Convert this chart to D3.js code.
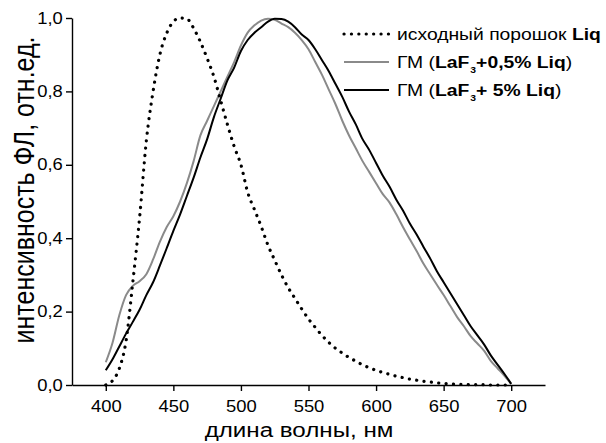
<!DOCTYPE html>
<html>
<head>
<meta charset="utf-8">
<script src="https://cdn.jsdelivr.net/npm/d3@7"></script>
<style>
  body { margin: 0; background: #fff; }
  text { font-family: "Liberation Sans", Arial, sans-serif; fill: #000; }
</style>
</head>
<body>
<svg id="chart" width="606" height="443"></svg>
<script>
// Wavelength grid, nm
const wavelengths = d3.range(400, 701, 5);

// Normalised photoluminescence spectra (relative units)
const powderLiq = [
  0.000, 0.012, 0.045, 0.120, 0.280, 0.455, 0.665, 0.800, 0.900, 0.958,
  0.990, 1.000, 0.998, 0.972, 0.935, 0.890, 0.840, 0.775, 0.710, 0.650,
  0.600, 0.525, 0.478, 0.432, 0.381, 0.340, 0.300, 0.265, 0.236, 0.207,
  0.180, 0.157, 0.135, 0.116, 0.100, 0.087, 0.075, 0.065, 0.055, 0.047,
  0.040, 0.034, 0.029, 0.024, 0.020, 0.016, 0.013, 0.010, 0.008, 0.006,
  0.004, 0.003, 0.002, 0.002, 0.001, 0.001, 0.001, 0.000, 0.000, 0.000,
  0.000
];
const gm05 = [
  0.062, 0.115, 0.190, 0.245, 0.270, 0.283, 0.302, 0.342, 0.390, 0.430,
  0.460, 0.500, 0.550, 0.610, 0.680, 0.720, 0.760, 0.800, 0.840, 0.880,
  0.925, 0.960, 0.980, 0.993, 0.998, 0.995, 0.985, 0.975, 0.960, 0.940,
  0.915, 0.880, 0.845, 0.805, 0.765, 0.720, 0.680, 0.645, 0.610, 0.580,
  0.550, 0.520, 0.497, 0.465, 0.430, 0.397, 0.365, 0.331, 0.302, 0.273,
  0.245, 0.215, 0.185, 0.160, 0.133, 0.113, 0.093, 0.065, 0.045, 0.025,
  0.003
];
const gm5 = [
  0.040, 0.070, 0.105, 0.140, 0.172, 0.205, 0.245, 0.280, 0.325, 0.372,
  0.420, 0.465, 0.515, 0.565, 0.620, 0.670, 0.730, 0.780, 0.830, 0.865,
  0.910, 0.940, 0.960, 0.975, 0.990, 0.998, 0.997, 0.990, 0.975, 0.955,
  0.940, 0.915, 0.885, 0.855, 0.820, 0.785, 0.745, 0.710, 0.670, 0.640,
  0.605, 0.570, 0.540, 0.505, 0.475, 0.440, 0.410, 0.377, 0.345, 0.310,
  0.280, 0.250, 0.220, 0.190, 0.160, 0.135, 0.110, 0.080, 0.055, 0.030,
  0.003
];

// Axis ticks
const xMajorTicks = [400, 450, 500, 550, 600, 650, 700];
const xMinorTicks = [375, 425, 475, 525, 575, 625, 675, 725];
const yMajorTicks = [0, 0.2, 0.4, 0.6, 0.8, 1.0];
const yMinorTicks = [0.1, 0.3, 0.5, 0.7, 0.9];

const svg = d3.select("#chart");
const SX = 1.15; // horizontal widening of the lettering

const x = d3.scaleLinear().domain([375, 725]).range([72, 545]);
const y = d3.scaleLinear().domain([0, 1]).range([385, 18]);

const commaFmt = v => d3.format(".1f")(v).replace(".", ",");

// X axis
const gx = svg.append("g").attr("transform", `translate(0,${y(0)})`);
gx.call(d3.axisBottom(x).tickValues(xMinorTicks).tickSize(4).tickSizeOuter(0).tickFormat(""));
gx.call(d3.axisBottom(x).tickValues(xMajorTicks).tickSize(6).tickSizeOuter(0).tickPadding(10));
gx.selectAll("text").attr("font-size", 16).attr("transform", `scale(${SX},1)`);

// Y axis
const gy = svg.append("g").attr("transform", `translate(${x(375)},0)`);
gy.call(d3.axisLeft(y).tickValues(yMinorTicks).tickSize(4).tickSizeOuter(0).tickFormat(""));
gy.call(d3.axisLeft(y).tickValues(yMajorTicks).tickSize(6).tickSizeOuter(0).tickPadding(2).tickFormat(commaFmt));
gy.selectAll("text").attr("font-size", 16).attr("transform", `scale(${SX},1)`);

svg.selectAll(".domain, .tick line").attr("stroke", "#000").attr("stroke-width", 1.4);
svg.selectAll(".tick text").attr("fill", "#000");

// Axis titles
svg.append("g").attr("transform", `translate(299,437) scale(${SX},1)`)
  .append("text").attr("text-anchor", "middle").attr("font-size", 21)
  .text("длина волны, нм");

svg.append("g").attr("transform", `translate(34,190) rotate(-90) scale(1,${SX})`)
  .append("text").attr("text-anchor", "middle").attr("font-size", 25)
  .text("интенсивность ФЛ, отн.ед.");

// Spectra
const series = [
  { values: gm05, color: "#8a8a8a", width: 2, dash: null },
  { values: gm5, color: "#000", width: 2, dash: null },
  { values: powderLiq, color: "#000", width: 3.2, dash: "0.1 7.3" }
];
const line = d3.line().x(d => x(d[0])).y(d => y(d[1])).curve(d3.curveMonotoneX);
series.forEach(s => {
  svg.append("path")
    .datum(wavelengths.map((w, i) => [w, s.values[i]]))
    .attr("d", line)
    .attr("fill", "none")
    .attr("stroke", s.color)
    .attr("stroke-width", s.width)
    .attr("stroke-linecap", s.dash ? "round" : "butt")
    .attr("stroke-dasharray", s.dash);
});

// Legend
const legendRows = [
  { y: 34, color: "#000", width: 3.2, dash: "0.1 7.3",
    parts: [["исходный порошок ", "normal"], ["Liq", "bold"]] },
  { y: 62, color: "#8a8a8a", width: 2, dash: null,
    parts: [["ГМ (", "normal"], ["LaF", "bold"], ["3", "bold", "sub"], ["+0,5% Liq", "bold"], [")", "normal"]] },
  { y: 90, color: "#000", width: 2, dash: null,
    parts: [["ГМ (", "normal"], ["LaF", "bold"], ["3", "bold", "sub"], ["+ 5% Liq", "bold"], [")", "normal"]] }
];
legendRows.forEach(r => {
  svg.append("line")
    .attr("x1", 344).attr("x2", 389).attr("y1", r.y).attr("y2", r.y)
    .attr("stroke", r.color).attr("stroke-width", r.width)
    .attr("stroke-linecap", r.dash ? "round" : "butt")
    .attr("stroke-dasharray", r.dash);
  const t = svg.append("g").attr("transform", `translate(397,${r.y + 6}) scale(${SX},1)`)
    .append("text").attr("font-size", 16.8);
  let shifted = false;
  r.parts.forEach(p => {
    const ts = t.append("tspan").attr("font-weight", p[1]).text(p[0]);
    if (p[2] === "sub") { ts.attr("dy", 5).attr("font-size", 9).attr("dx", 1); shifted = true; }
    else if (shifted) { ts.attr("dy", -5); shifted = false; }
  });
});
</script>
</body>
</html>
